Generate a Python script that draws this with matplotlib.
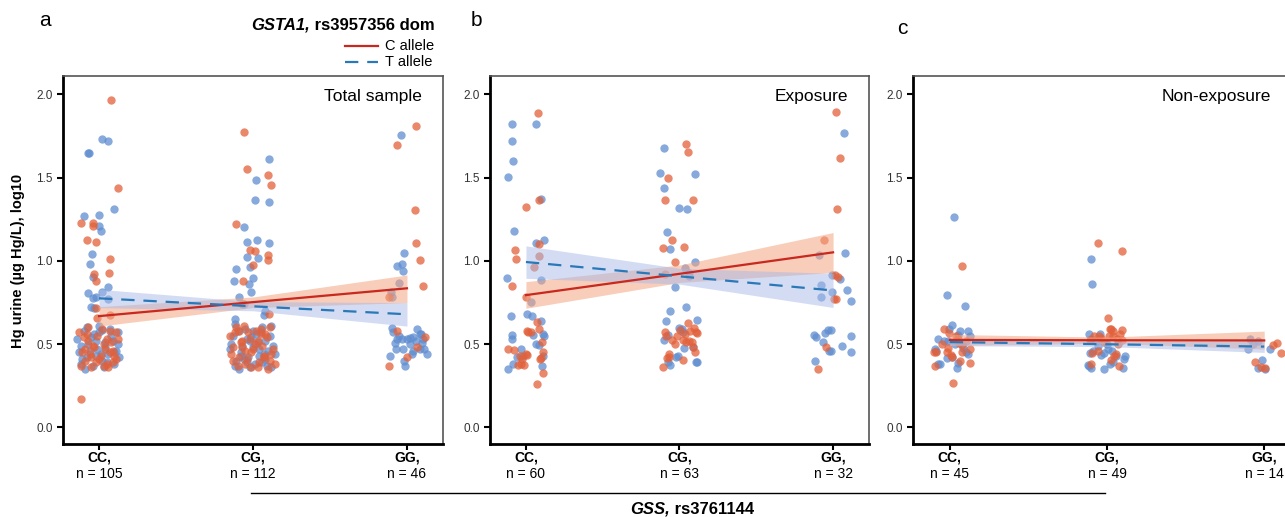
import numpy as np
import matplotlib
matplotlib.use("Agg")
import matplotlib.pyplot as plt
from matplotlib.lines import Line2D

plt.rcParams['font.family'] = ['Liberation Sans', 'DejaVu Sans']

# categories and group sizes
groups = ['CC,', 'CG,', 'GG,']
n_total = [105, 112, 46]
n_exposure = [60, 63, 32]
n_nonexposure = [45, 49, 14]
panel_titles = ['Total sample', 'Exposure', 'Non-exposure']
panel_letters = ['a', 'b', 'c']

# points: (group index, jitter, log10 Hg)
a_c_allele = [
    (0, 0.076, 1.966), (0, 0.12, 1.44), (0, -0.117, 1.227), (0, -0.04, 1.23), (0, -0.04, 1.21),
    (0, -0.076, 1.123), (0, -0.02, 1.115), (0, 0.07, 1.009), (0, 0.065, 0.925), (0, -0.03, 0.921),
    (0, -0.02, 0.879), (0, -0.015, 0.655), (0, 0.07, 0.673), (0, -0.12, 0.168), (0, -0.017, 0.715),
    (0, -0.13, 0.57), (0, -0.11, 0.45), (0, -0.09, 0.40), (0, -0.07, 0.52), (0, -0.05, 0.36),
    (0, -0.03, 0.48), (0, -0.01, 0.55), (0, 0.01, 0.43), (0, 0.03, 0.50), (0, 0.05, 0.38),
    (0, 0.07, 0.58), (0, 0.09, 0.46), (0, 0.11, 0.41), (0, 0.12, 0.53), (0, -0.12, 0.37),
    (0, -0.08, 0.56), (0, -0.06, 0.44), (0, -0.02, 0.39), (0, 0.02, 0.59), (0, 0.04, 0.47),
    (0, 0.06, 0.36), (0, 0.08, 0.51), (0, 0.10, 0.43), (0, -0.10, 0.54), (0, -0.04, 0.49),
    (0, 0.00, 0.41), (0, 0.03, 0.37), (0, 0.07, 0.45), (0, -0.07, 0.60), (0, 0.11, 0.57),
    (0, -0.09, 0.47), (0, 0.05, 0.53), (0, -0.05, 0.42), (0, 0.09, 0.39),
    (1, -0.058, 1.774), (1, -0.041, 1.554), (1, 0.10, 1.516), (1, 0.117, 1.456), (1, -0.11, 1.224),
    (1, -0.02, 1.068), (1, 0.015, 1.058), (1, 0.097, 1.036), (1, 0.095, 1.002), (1, 0.002, 0.976),
    (1, -0.065, 0.876), (1, 0.104, 0.682), (1, -0.071, 0.738),
    (1, -0.15, 0.55), (1, -0.13, 0.48), (1, -0.11, 0.60), (1, -0.09, 0.42), (1, -0.07, 0.52),
    (1, -0.05, 0.38), (1, -0.03, 0.57), (1, -0.01, 0.45), (1, 0.01, 0.50), (1, 0.03, 0.36),
    (1, 0.05, 0.59), (1, 0.07, 0.43), (1, 0.09, 0.54), (1, 0.11, 0.40), (1, 0.13, 0.47),
    (1, -0.14, 0.44), (1, -0.12, 0.57), (1, -0.10, 0.37), (1, -0.08, 0.51), (1, -0.06, 0.61),
    (1, -0.04, 0.41), (1, -0.02, 0.53), (1, 0.00, 0.47), (1, 0.02, 0.58), (1, 0.04, 0.39),
    (1, 0.06, 0.49), (1, 0.08, 0.56), (1, 0.10, 0.35), (1, 0.12, 0.44), (1, -0.13, 0.40),
    (1, -0.09, 0.58), (1, -0.05, 0.46), (1, -0.01, 0.36), (1, 0.03, 0.52), (1, 0.07, 0.42),
    (1, 0.11, 0.60), (1, -0.07, 0.48), (1, 0.05, 0.56), (1, 0.14, 0.38),
    (2, 0.06, 1.81), (2, -0.063, 1.694), (2, 0.05, 1.306), (2, 0.06, 1.11), (2, 0.084, 1.006),
    (2, 0.106, 0.85), (2, -0.117, 0.78), (2, -0.067, 0.578), (2, 0.117, 0.54), (2, 0.063, 0.485),
    (2, 0.0, 0.42), (2, -0.117, 0.366),
]
a_t_allele = [
    (0, 0.02, 1.73), (0, 0.06, 1.72), (0, -0.07, 1.65), (0, -0.065, 1.648), (0, 0.10, 1.31),
    (0, -0.095, 1.27), (0, 0.0, 1.275), (0, 0.0, 1.21), (0, 0.01, 1.18), (0, -0.045, 1.043),
    (0, -0.06, 0.979), (0, -0.04, 0.90), (0, 0.058, 0.84), (0, -0.07, 0.805), (0, -0.04, 0.777),
    (0, -0.02, 0.78), (0, 0.02, 0.81), (0, 0.06, 0.77), (0, -0.05, 0.725), (0, -0.03, 0.715),
    (0, 0.0, 0.608), (0, 0.02, 0.587),
    (0, -0.14, 0.53), (0, -0.12, 0.49), (0, -0.10, 0.58), (0, -0.08, 0.42), (0, -0.06, 0.46),
    (0, -0.04, 0.37), (0, -0.02, 0.52), (0, 0.00, 0.57), (0, 0.02, 0.40), (0, 0.04, 0.48),
    (0, 0.06, 0.44), (0, 0.08, 0.55), (0, 0.10, 0.38), (0, 0.12, 0.50), (0, 0.13, 0.42),
    (0, -0.13, 0.45), (0, -0.09, 0.35), (0, -0.05, 0.54), (0, -0.01, 0.47), (0, 0.03, 0.36),
    (0, 0.07, 0.59), (0, 0.11, 0.46), (0, -0.11, 0.41), (0, -0.07, 0.50), (0, -0.03, 0.56),
    (0, 0.01, 0.44), (0, 0.05, 0.39), (0, 0.09, 0.52), (0, -0.12, 0.38), (0, 0.12, 0.57),
    (0, -0.08, 0.60), (0, 0.04, 0.51), (0, -0.02, 0.43), (0, 0.10, 0.45),
    (1, 0.104, 1.612), (1, 0.017, 1.484), (1, 0.013, 1.368), (1, 0.104, 1.352), (1, -0.058, 1.204),
    (1, -0.037, 1.114), (1, 0.026, 1.128), (1, 0.102, 1.11), (1, -0.041, 1.024), (1, 0.035, 1.016),
    (1, -0.108, 0.95), (1, -0.02, 0.96), (1, 0.0, 0.898), (1, -0.123, 0.88), (1, -0.026, 0.858),
    (1, -0.089, 0.784), (1, -0.015, 0.812), (1, 0.07, 0.672), (1, -0.12, 0.648), (1, -0.06, 0.74),
    (1, 0.08, 0.70),
    (1, -0.14, 0.50), (1, -0.12, 0.37), (1, -0.10, 0.58), (1, -0.08, 0.45), (1, -0.06, 0.41),
    (1, -0.04, 0.53), (1, -0.02, 0.36), (1, 0.00, 0.48), (1, 0.02, 0.56), (1, 0.04, 0.43),
    (1, 0.06, 0.39), (1, 0.08, 0.52), (1, 0.10, 0.46), (1, 0.12, 0.61), (1, 0.14, 0.44),
    (1, -0.15, 0.47), (1, -0.13, 0.55), (1, -0.11, 0.40), (1, -0.09, 0.35), (1, -0.07, 0.49),
    (1, -0.05, 0.59), (1, -0.03, 0.42), (1, -0.01, 0.54), (1, 0.01, 0.38), (1, 0.03, 0.51),
    (1, 0.05, 0.57), (1, 0.07, 0.44), (1, 0.09, 0.37), (1, 0.11, 0.55), (1, 0.13, 0.49),
    (1, -0.12, 0.62), (1, -0.08, 0.43), (1, -0.04, 0.39), (1, 0.00, 0.58), (1, 0.04, 0.47),
    (1, 0.08, 0.41), (1, 0.12, 0.36), (1, -0.02, 0.52), (1, 0.06, 0.60),
    (2, -0.039, 1.754), (2, -0.017, 1.049), (2, -0.067, 0.969), (2, -0.034, 0.979), (2, -0.028, 0.939),
    (2, -0.05, 0.869), (2, -0.106, 0.813), (2, -0.10, 0.78), (2, -0.099, 0.599), (2, -0.09, 0.57),
    (2, -0.067, 0.529), (2, -0.035, 0.529), (2, -0.002, 0.533), (2, 0.019, 0.539), (2, 0.041, 0.545),
    (2, 0.063, 0.589), (2, 0.084, 0.559), (2, 0.106, 0.529), (2, 0.095, 0.509), (2, -0.071, 0.468),
    (2, -0.024, 0.468), (2, 0.041, 0.458), (2, 0.084, 0.468), (2, 0.128, 0.438), (2, -0.11, 0.428),
    (2, -0.013, 0.368), (2, -0.078, 0.509), (2, 0.02, 0.50), (2, 0.06, 0.52), (2, -0.05, 0.55),
    (2, 0.11, 0.47), (2, 0.03, 0.44), (2, 0.09, 0.56), (2, -0.02, 0.40),
]

b_c_allele = [
    (0, 0.08, 1.885), (0, 0.002, 1.325), (0, 0.087, 1.365), (0, -0.07, 1.065), (0, -0.065, 1.01),
    (0, 0.082, 1.10), (0, 0.082, 1.03), (0, 0.052, 0.965), (0, -0.09, 0.85), (0, 0.0, 0.78),
    (0, 0.004, 0.58), (0, 0.015, 0.575), (0, 0.07, 0.635), (0, 0.087, 0.59), (0, -0.12, 0.47),
    (0, -0.08, 0.465), (0, -0.05, 0.375), (0, -0.025, 0.41), (0, 0.0, 0.44), (0, 0.007, 0.435),
    (0, -0.015, 0.375), (0, 0.074, 0.26), (0, 0.104, 0.51), (0, 0.113, 0.45), (0, 0.097, 0.415),
    (0, 0.11, 0.325), (0, 0.09, 0.41), (0, -0.03, 0.38), (0, 0.03, 0.57), (0, -0.04, 0.43),
    (1, 0.045, 1.70), (1, 0.058, 1.655), (1, -0.078, 1.495), (1, -0.095, 1.365), (1, 0.087, 1.365),
    (1, -0.05, 1.125), (1, -0.11, 1.075), (1, 0.03, 1.085), (1, -0.028, 0.99), (1, -0.093, 0.92),
    (1, 0.054, 0.625), (1, 0.093, 0.595), (1, 0.106, 0.57), (1, 0.117, 0.568), (1, -0.093, 0.57),
    (1, -0.091, 0.55), (1, -0.05, 0.525), (1, -0.017, 0.55), (1, 0.022, 0.525), (1, 0.043, 0.51),
    (1, 0.06, 0.517), (1, 0.084, 0.513), (1, 0.10, 0.45), (1, -0.067, 0.425), (1, -0.082, 0.417),
    (1, -0.11, 0.363), (1, 0.026, 0.407), (1, 0.002, 0.585), (1, -0.071, 0.44), (1, 0.035, 0.56),
    (1, 0.09, 0.48), (1, -0.03, 0.50), (1, 0.07, 0.58),
    (2, 0.02, 1.895), (2, 0.047, 1.617), (2, 0.024, 1.31), (2, -0.06, 1.127), (2, 0.01, 0.917),
    (2, 0.004, 0.77), (2, 0.019, 0.77), (2, -0.043, 0.483), (2, -0.097, 0.35), (2, 0.03, 0.90),
]
b_t_allele = [
    (0, -0.09, 1.82), (0, -0.089, 1.72), (0, -0.087, 1.60), (0, -0.12, 1.505), (0, 0.065, 1.82),
    (0, 0.10, 1.37), (0, -0.078, 1.18), (0, 0.065, 1.11), (0, 0.12, 1.125), (0, -0.126, 0.895),
    (0, 0.095, 0.887), (0, 0.03, 0.75), (0, -0.095, 0.67), (0, 0.006, 0.68), (0, 0.04, 0.67),
    (0, -0.09, 0.555), (0, -0.093, 0.53), (0, 0.043, 0.555), (0, 0.097, 0.64), (0, 0.12, 0.55),
    (0, 0.065, 0.50), (0, 0.087, 0.495), (0, -0.12, 0.35), (0, -0.087, 0.38), (0, -0.03, 0.47),
    (0, -0.017, 0.43), (0, 0.11, 0.43), (0, 0.104, 0.37), (0, 0.11, 0.56), (0, -0.06, 0.42),
    (1, -0.10, 1.675), (1, -0.125, 1.53), (1, -0.10, 1.44), (1, -0.006, 1.32), (1, 0.048, 1.31),
    (1, 0.10, 1.52), (1, -0.08, 1.175), (1, -0.063, 1.07), (1, 0.10, 0.99), (1, 0.037, 0.955),
    (1, 0.065, 0.925), (1, -0.028, 0.845), (1, -0.065, 0.70), (1, 0.045, 0.72), (1, 0.117, 0.645),
    (1, -0.09, 0.64), (1, -0.104, 0.525), (1, -0.075, 0.555), (1, 0.017, 0.59), (1, 0.03, 0.475),
    (1, 0.09, 0.485), (1, -0.02, 0.425), (1, -0.013, 0.428), (1, -0.06, 0.375), (1, -0.075, 0.39),
    (1, 0.106, 0.39), (1, 0.114, 0.39), (1, 0.026, 0.57), (1, 0.0, 0.595), (1, 0.06, 0.91),
    (2, 0.074, 1.77), (2, -0.09, 1.035), (2, 0.08, 1.045), (2, -0.076, 0.855), (2, -0.076, 0.78),
    (2, 0.043, 0.89), (2, 0.09, 0.825), (2, 0.115, 0.757), (2, -0.01, 0.915), (2, -0.006, 0.81),
    (2, -0.125, 0.555), (2, -0.11, 0.543), (2, -0.065, 0.51), (2, -0.03, 0.583), (2, -0.011, 0.587),
    (2, -0.05, 0.565), (2, -0.015, 0.457), (2, -0.025, 0.46), (2, 0.058, 0.487), (2, 0.117, 0.546),
    (2, 0.115, 0.453), (2, -0.12, 0.40),
]

c_c_allele = [
    (0, 0.078, 0.971), (0, -0.034, 0.588), (0, -0.008, 0.568), (0, 0.055, 0.528), (0, 0.059, 0.508),
    (0, 0.076, 0.497), (0, -0.013, 0.479), (0, -0.10, 0.453), (0, -0.087, 0.453), (0, 0.076, 0.453),
    (0, 0.127, 0.469), (0, 0.006, 0.433), (0, 0.017, 0.425), (0, 0.13, 0.385), (0, -0.093, 0.369),
    (0, 0.019, 0.269), (0, 0.04, 0.55), (0, -0.05, 0.50), (0, 0.10, 0.52), (0, -0.02, 0.45),
    (0, 0.065, 0.40),
    (1, -0.059, 1.105), (1, 0.097, 1.061), (1, 0.004, 0.656), (1, 0.017, 0.592), (1, 0.025, 0.588),
    (1, 0.097, 0.584), (1, 0.08, 0.558), (1, 0.063, 0.532), (1, -0.108, 0.524), (1, -0.08, 0.548),
    (1, -0.049, 0.548), (1, -0.038, 0.538), (1, 0.036, 0.548), (1, -0.093, 0.449), (1, 0.057, 0.439),
    (1, 0.047, 0.43), (1, 0.025, 0.403), (1, 0.078, 0.369), (1, -0.102, 0.379), (1, 0.093, 0.524),
    (1, 0.04, 0.58), (1, -0.02, 0.51), (1, 0.07, 0.50), (1, -0.06, 0.46), (1, 0.01, 0.55),
    (2, -0.057, 0.395), (2, 0.006, 0.355), (2, 0.055, 0.493), (2, 0.08, 0.508), (2, 0.104, 0.449),
    (2, -0.02, 0.36),
]
c_t_allele = [
    (0, 0.028, 1.264), (0, -0.02, 0.796), (0, 0.095, 0.726), (0, 0.017, 0.612), (0, -0.004, 0.588),
    (0, 0.066, 0.578), (0, 0.119, 0.578), (0, 0.05, 0.552), (0, 0.13, 0.548), (0, -0.072, 0.528),
    (0, -0.034, 0.518), (0, -0.013, 0.52), (0, -0.093, 0.469), (0, 0.087, 0.479), (0, 0.114, 0.439),
    (0, -0.06, 0.379), (0, -0.072, 0.38), (0, -0.02, 0.419), (0, 0.013, 0.42), (0, 0.055, 0.389),
    (0, 0.044, 0.359), (0, -0.087, 0.46), (0, 0.03, 0.50), (0, 0.10, 0.45),
    (1, -0.104, 1.013), (1, -0.093, 0.859), (1, -0.117, 0.562), (1, -0.042, 0.562), (1, -0.102, 0.528),
    (1, -0.059, 0.489), (1, 0.004, 0.469), (1, -0.017, 0.449), (1, -0.038, 0.433), (1, -0.108, 0.449),
    (1, -0.091, 0.46), (1, -0.123, 0.373), (1, -0.102, 0.359), (1, -0.017, 0.349), (1, 0.036, 0.393),
    (1, 0.057, 0.429), (1, 0.104, 0.355), (1, 0.114, 0.429), (1, 0.108, 0.409), (1, 0.021, 0.379),
    (1, -0.07, 0.52), (1, 0.0, 0.50), (1, -0.115, 0.37), (1, 0.03, 0.46),
    (2, -0.089, 0.532), (2, -0.104, 0.469), (2, -0.04, 0.518), (2, 0.034, 0.469), (2, -0.015, 0.403),
    (2, -0.04, 0.355), (2, 0.006, 0.349), (2, -0.07, 0.50),
]

# linear fits with 95% CI read at CC, CG, GG
a_c_fit = [0.668, 0.752, 0.835]
a_c_lo = [0.608, 0.719, 0.749]
a_c_hi = [0.725, 0.783, 0.915]
a_t_fit = [0.775, 0.727, 0.679]
a_t_lo = [0.719, 0.700, 0.608]
a_t_hi = [0.829, 0.755, 0.749]

b_c_fit = [0.794, 0.922, 1.051]
b_c_lo = [0.715, 0.870, 0.930]
b_c_hi = [0.875, 0.975, 1.170]
b_t_fit = [0.993, 0.907, 0.822]
b_t_lo = [0.895, 0.860, 0.720]
b_t_hi = [1.090, 0.955, 0.925]

c_c_fit = [0.525, 0.523, 0.522]
c_c_lo = [0.492, 0.505, 0.470]
c_c_hi = [0.558, 0.542, 0.578]
c_t_fit = [0.512, 0.499, 0.485]
c_t_lo = [0.490, 0.485, 0.450]
c_t_hi = [0.535, 0.513, 0.520]

RED_PT = '#E2603A'
BLUE_PT = '#5F8DD0'
RED_LN = '#C8281E'
BLUE_LN = '#2A78B8'
RED_CI = '#F4A582'
BLUE_CI = '#A9BBE8'

fig = plt.figure(figsize=(12.85, 5.17), dpi=100)
W, H = 1285, 517
axes_px = [(63, 380), (490, 379), (913, 388)]  # left, width in pixels
bottom_px, top_px = 444, 76

panels = [
    (a_c_allele, a_t_allele, a_c_fit, a_c_lo, a_c_hi, a_t_fit, a_t_lo, a_t_hi, n_total),
    (b_c_allele, b_t_allele, b_c_fit, b_c_lo, b_c_hi, b_t_fit, b_t_lo, b_t_hi, n_exposure),
    (c_c_allele, c_t_allele, c_c_fit, c_c_lo, c_c_hi, c_t_fit, c_t_lo, c_t_hi, n_nonexposure),
]
xs = np.arange(3)

for i, (cpts, tpts, cf, clo, chi, tf, tlo, thi, ns) in enumerate(panels):
    left, width = axes_px[i]
    ax = fig.add_axes([left / W, (H - bottom_px) / H, width / W, (bottom_px - top_px) / H])
    cp = np.array(cpts)
    tp = np.array(tpts)
    ax.scatter(tp[:, 0] + tp[:, 1], tp[:, 2], s=36, color=BLUE_PT, alpha=0.75, linewidths=0, zorder=2)
    ax.scatter(cp[:, 0] + cp[:, 1], cp[:, 2], s=36, color=RED_PT, alpha=0.75, linewidths=0, zorder=2)
    ax.fill_between(xs, clo, chi, color=RED_CI, alpha=0.55, linewidth=0, zorder=3)
    ax.fill_between(xs, tlo, thi, color=BLUE_CI, alpha=0.5, linewidth=0, zorder=3)
    ax.plot(xs, cf, color=RED_LN, lw=1.6, zorder=4)
    ax.plot(xs, tf, color=BLUE_LN, lw=1.6, dashes=(6, 4), zorder=4)

    ax.set_xlim(-0.234, 2.234)
    ax.set_ylim(-0.1, 2.11)
    ax.set_yticks([0.0, 0.5, 1.0, 1.5, 2.0])
    ax.set_yticklabels(['0.0', '0.5', '1.0', '1.5', '2.0'])
    ax.set_xticks(xs)
    ax.set_xticklabels([])
    ax.tick_params(axis='both', length=4, width=1.5, color='black', labelsize=8.5, labelcolor='#333333')
    for side in ['left', 'bottom']:
        ax.spines[side].set_linewidth(2)
        ax.spines[side].set_color('black')
    for side in ['top', 'right']:
        ax.spines[side].set_linewidth(1.2)
        ax.spines[side].set_color('#555555')

    for k in range(3):
        ax.annotate(groups[k], xy=(k, 0), xycoords=('data', 'axes fraction'),
                    xytext=(0, -14), textcoords='offset pixels', ha='center', va='center',
                    fontsize=10, fontweight='bold', annotation_clip=False)
        ax.annotate('n = %d' % ns[k], xy=(k, 0), xycoords=('data', 'axes fraction'),
                    xytext=(0, -30), textcoords='offset pixels', ha='center', va='center',
                    fontsize=10, annotation_clip=False)

    tx = [0.945, 0.944, 0.923][i]
    ax.text(tx, 0.943, panel_titles[i], transform=ax.transAxes, ha='right', va='center', fontsize=12.5)

# panel letters
for lab, (px, py) in zip(panel_letters, [(45, 21), (476, 20), (902, 28)]):
    fig.text(px / W, 1 - py / H, lab, fontsize=15, ha='center', va='center')

# y axis label
fig.text(18 / W, 1 - 261 / H, 'Hg urine (µg Hg/L), log10', rotation=90, ha='center', va='center',
         fontsize=10.5, fontweight='bold')

renderer = fig.canvas.get_renderer()

# legend title (gene italic)
t_rest = fig.text(435 / W, 1 - 25 / H, ' rs3957356 dom', ha='right', va='center',
                  fontsize=12, fontweight='bold')
bb = t_rest.get_window_extent(renderer)
fig.text(bb.x0 / W, 1 - 25 / H, 'GSTA1,', ha='right', va='center', fontsize=12,
         fontweight='bold', style='italic')

# legend entries
fig.add_artist(Line2D([345 / W, 378 / W], [1 - 46 / H, 1 - 46 / H], color=RED_LN, lw=1.6))
fig.add_artist(Line2D([345 / W, 378 / W], [1 - 62 / H, 1 - 62 / H], color=BLUE_LN, lw=1.6,
                      dashes=(6, 4)))
fig.text(385 / W, 1 - 46 / H, 'C allele', ha='left', va='center', fontsize=10.5)
fig.text(385 / W, 1 - 62 / H, 'T allele', ha='left', va='center', fontsize=10.5)

# bottom gene label
fig.add_artist(Line2D([251 / W, 1105 / W], [1 - 493 / H, 1 - 493 / H], color='black', lw=1))
t1 = fig.text(0, 1 - 509 / H, 'GSS,', ha='left', va='center', fontsize=12,
              fontweight='bold', style='italic')
t2 = fig.text(0, 1 - 509 / H, ' rs3761144', ha='left', va='center', fontsize=12, fontweight='bold')
w1 = t1.get_window_extent(renderer).width
w2 = t2.get_window_extent(renderer).width
x0 = 692 - (w1 + w2) / 2
t1.set_x(x0 / W)
t2.set_x((x0 + w1) / W)

fig.savefig('out.png', dpi=100)
